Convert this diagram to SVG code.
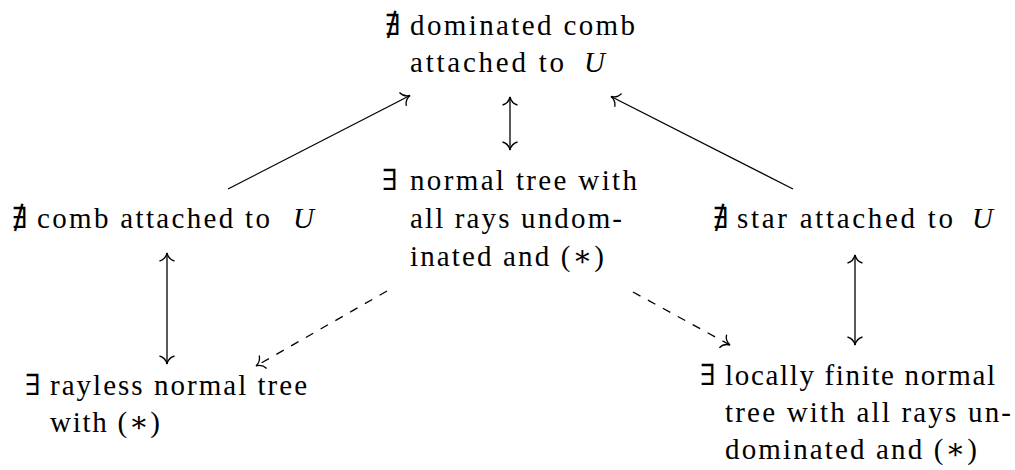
<svg xmlns="http://www.w3.org/2000/svg" width="1015" height="470" viewBox="0 0 1015 470">
<style>
text{font-family:'Liberation Serif','DejaVu Serif',serif;font-size:29px;fill:#000}
.it{font-style:italic}
.c{fill:none;stroke:#000;stroke-width:1.3}
.d{stroke-dasharray:8.5 8.5}
</style>
<defs>
<marker id="to" viewBox="-12 -12 24 24" refX="0" refY="0" markerWidth="24" markerHeight="24" markerUnits="userSpaceOnUse" orient="auto-start-reverse">
<path d="M -8,-7.5 C -6.8,-3.2 -3,-0.7 0,0 C -3,0.7 -6.8,3.2 -8,7.5" fill="none" stroke="#000" stroke-width="1.3"/>
</marker>
</defs>
<rect width="1015" height="470" fill="#fff"/>
<g id="connectors">
<line class="c" x1="228" y1="189" x2="410" y2="95.5" marker-end="url(#to)"/>
<line class="c" x1="793" y1="189" x2="611" y2="96.5" marker-end="url(#to)"/>
<line class="c" x1="510" y1="97" x2="510" y2="150" marker-start="url(#to)" marker-end="url(#to)"/>
<line class="c" x1="167" y1="253" x2="167" y2="364" marker-start="url(#to)" marker-end="url(#to)"/>
<line class="c" x1="855" y1="255" x2="855" y2="345" marker-start="url(#to)" marker-end="url(#to)"/>
<line class="c d" x1="387" y1="291" x2="256" y2="366" marker-end="url(#to)"/>
<line class="c d" x1="633" y1="292" x2="730" y2="345" marker-end="url(#to)"/>
</g>
<g id="top">
<text x="385" y="35">∄</text>
<text x="410" y="35" textLength="225">dominated comb</text>
<text x="410" y="72" textLength="154">attached to</text>
<text class="it" x="584" y="72">U</text>
</g>
<g id="middle">
<text x="382" y="190">∃</text>
<text x="410" y="190" textLength="227">normal tree with</text>
<text x="410" y="228" textLength="212">all rays undom-</text>
<text x="410" y="266" textLength="194">inated and (∗)</text>
</g>
<g id="left">
<text x="12" y="228">∄</text>
<text x="37" y="228" textLength="233">comb attached to</text>
<text class="it" x="293" y="228">U</text>
</g>
<g id="right">
<text x="713" y="228">∄</text>
<text x="737" y="228" textLength="216">star attached to</text>
<text class="it" x="972" y="228">U</text>
</g>
<g id="bottom-left">
<text x="25" y="395">∃</text>
<text x="50" y="395" textLength="257">rayless normal tree</text>
<text x="50" y="432" textLength="110">with (∗)</text>
</g>
<g id="bottom-right">
<text x="700" y="385">∃</text>
<text x="725" y="385" textLength="270">locally finite normal</text>
<text x="725" y="422" textLength="286">tree with all rays un-</text>
<text x="725" y="459" textLength="252">dominated and (∗)</text>
</g>
</svg>
